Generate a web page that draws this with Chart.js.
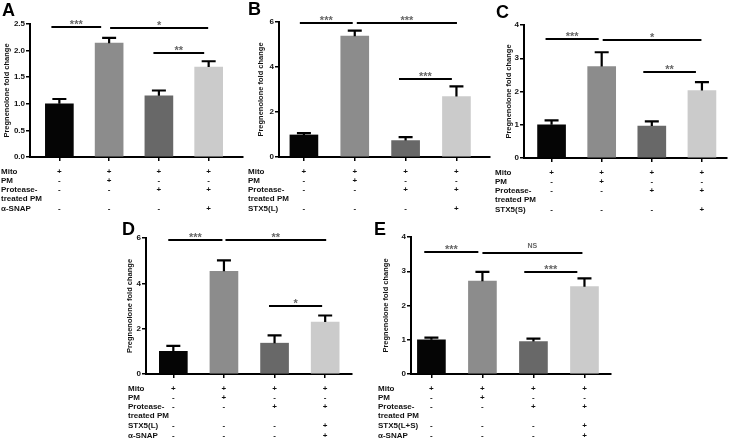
<!DOCTYPE html>
<html>
<head>
<meta charset="utf-8">
<script src="https://cdn.jsdelivr.net/npm/chart.js@4.4.0/dist/chart.umd.min.js"></script>
<style>
  body { margin: 0; background: #fff; width: 729px; height: 441px; position: relative; overflow: hidden; }
  canvas { position: absolute; }
</style>
</head>
<body>
<canvas id="panel-a"></canvas>
<canvas id="panel-b"></canvas>
<canvas id="panel-c"></canvas>
<canvas id="panel-d"></canvas>
<canvas id="panel-e"></canvas>
<script>
// Groups (x positions of the four bars)
const groups = [1, 2, 3, 4];
const barColors = ['#050505', '#8c8c8c', '#686868', '#cbcbcb'];

// Panel A
const meansA = [1.00, 2.14, 1.15, 1.69];
const semA = [0.09, 0.10, 0.10, 0.11];
const ticksA = [0, 0.5, 1.0, 1.5, 2.0, 2.5];
const labelsA = ['Mito', 'PM', 'Protease-', 'treated PM', '\u03b1-SNAP'];
const signsA = [['+', '+', '+', '+'], ['-', '+', '-', '-'], ['-', '-', '+', '+'], null, ['-', '-', '-', '+']];
const sigA = [[0.84, 1.84, 2.44, '***'], [2.02, 3.99, 2.42, '*'], [2.89, 3.91, 1.95, '**']];

// Panel B
const meansB = [0.98, 5.37, 0.73, 2.69];
const semB = [0.08, 0.25, 0.15, 0.45];
const ticksB = [0, 2, 4, 6];
const labelsB = ['Mito', 'PM', 'Protease-', 'treated PM', 'STX5(L)'];
const signsB = [['+', '+', '+', '+'], ['-', '+', '-', '-'], ['-', '-', '+', '+'], null, ['-', '-', '-', '+']];
const sigB = [[0.92, 1.96, 5.96, '***'], [2.04, 4.01, 5.96, '***'], [2.87, 3.91, 3.47, '***']];

// Panel C
const meansC = [1.00, 2.75, 0.96, 2.03];
const semC = [0.13, 0.43, 0.14, 0.25];
const ticksC = [0, 1, 2, 3, 4];
const labelsC = ['Mito', 'PM', 'Protease-', 'treated PM', 'STX5(S)'];
const signsC = [['+', '+', '+', '+'], ['-', '+', '-', '-'], ['-', '-', '+', '+'], null, ['-', '-', '-', '+']];
const sigC = [[0.88, 1.94, 3.57, '***'], [2.02, 3.99, 3.55, '*'], [2.83, 3.88, 2.60, '**']];

// Panel D
const meansD = [1.00, 4.53, 1.36, 2.29];
const semD = [0.24, 0.48, 0.34, 0.29];
const ticksD = [0, 2, 4, 6];
const labelsD = ['Mito', 'PM', 'Protease-', 'treated PM', 'STX5(L)', '\u03b1-SNAP'];
const signsD = [['+', '+', '+', '+'], ['-', '+', '-', '-'], ['-', '-', '+', '+'], null, ['-', '-', '-', '+'], ['-', '-', '-', '+']];
const sigD = [[0.90, 1.97, 5.93, '***'], [2.03, 4.02, 5.93, '**'], [2.89, 3.94, 3.01, '*']];

// Panel E
const meansE = [1.00, 2.71, 0.95, 2.55];
const semE = [0.06, 0.27, 0.08, 0.24];
const ticksE = [0, 1, 2, 3, 4];
const labelsE = ['Mito', 'PM', 'Protease-', 'treated PM', 'STX5(L+S)', '\u03b1-SNAP'];
const signsE = [['+', '+', '+', '+'], ['-', '+', '-', '-'], ['-', '-', '+', '+'], null, ['-', '-', '-', '+'], ['-', '-', '-', '+']];
const sigE = [[0.86, 1.92, 3.56, '***'], [2.00, 3.96, 3.53, 'NS'], [2.82, 3.86, 2.97, '***']];

const FONT = '"Liberation Sans", Arial, sans-serif';
const rowOffsets = [14.5, 23.5, 33, 42, 52, 61.5];

function makePanel(p) {
  const canvas = document.getElementById(p.id);
  canvas.width = p.width;
  canvas.height = p.height;
  canvas.style.left = p.left + 'px';
  canvas.style.top = p.top + 'px';

  // error bars, significance bars, condition table, panel letter
  const extras = {
    id: 'extras',
    afterDatasetsDraw(chart) {
      const { ctx, scales: { x, y } } = chart;
      ctx.save();
      ctx.strokeStyle = '#000';
      ctx.lineWidth = 2.2;
      p.means.forEach((m, i) => {
        const px = x.getPixelForValue(groups[i]);
        const top = y.getPixelForValue(m + p.sem[i]);
        ctx.beginPath();
        ctx.moveTo(px, y.getPixelForValue(m));
        ctx.lineTo(px, top);
        ctx.moveTo(px - 7, top);
        ctx.lineTo(px + 7, top);
        ctx.stroke();
      });
      ctx.restore();
    },
    afterDraw(chart) {
      const { ctx, scales: { x, y }, chartArea } = chart;
      ctx.save();
      // significance
      p.sig.forEach(s => {
        const x1 = x.getPixelForValue(s[0]);
        const x2 = x.getPixelForValue(s[1]);
        const yy = Math.round(y.getPixelForValue(s[2]));
        ctx.strokeStyle = '#000';
        ctx.lineWidth = 2;
        ctx.beginPath();
        ctx.moveTo(x1, yy);
        ctx.lineTo(x2, yy);
        ctx.stroke();
        ctx.fillStyle = '#666';
        ctx.textAlign = 'center';
        ctx.textBaseline = 'alphabetic';
        if (s[3] === 'NS') {
          ctx.font = 'bold 7px ' + FONT;
          ctx.fillText(s[3], (x1 + x2) / 2, yy - 5);
        } else {
          ctx.font = 'bold 11px ' + FONT;
          ctx.fillText(s[3], (x1 + x2) / 2, yy + 0.5);
        }
      });
      // table of conditions
      ctx.fillStyle = '#111';
      ctx.font = 'bold 8px ' + FONT;
      ctx.textBaseline = 'middle';
      p.labels.forEach((label, r) => {
        const ry = chartArea.bottom + rowOffsets[r];
        ctx.textAlign = 'left';
        ctx.fillText(label, p.labelX - p.left, ry);
        if (p.signs[r]) {
          ctx.textAlign = 'center';
          p.signs[r].forEach((s, i) => ctx.fillText(s, x.getPixelForValue(groups[i]), ry));
        }
      });
      // panel letter
      ctx.fillStyle = '#000';
      ctx.font = 'bold 18px ' + FONT;
      ctx.textAlign = 'left';
      ctx.textBaseline = 'alphabetic';
      ctx.fillText(p.letter, p.letterX - p.left, p.letterY - p.top);
      ctx.restore();
    }
  };

  return new Chart(canvas, {
    type: 'bar',
    data: {
      datasets: [{
        data: groups.map((g, i) => ({ x: g, y: p.means[i] })),
        backgroundColor: barColors,
        borderWidth: 0,
        barThickness: 28
      }]
    },
    options: {
      responsive: false,
      animation: false,
      devicePixelRatio: 1,
      layout: {
        padding: { left: 0, top: p.plotTop - p.top, right: p.left + p.width - p.plotRight, bottom: 0 }
      },
      plugins: { legend: { display: false }, tooltip: { enabled: false } },
      scales: {
        x: {
          type: 'linear',
          min: p.xMin,
          max: p.xMax,
          offset: false,
          grid: { offset: false, drawOnChartArea: false, drawTicks: true, tickLength: 4, color: '#000', lineWidth: 1.5 },
          border: { color: '#000', width: 2 },
          ticks: { callback: () => '' },
          afterBuildTicks: s => { s.ticks = groups.map(v => ({ value: v })); },
          afterFit: s => { s.height = p.top + p.height - p.plotBottom; }
        },
        y: {
          min: 0,
          max: p.ticks[p.ticks.length - 1],
          grid: { drawOnChartArea: false, drawTicks: true, tickLength: 4, color: '#000', lineWidth: 1.5 },
          border: { color: '#000', width: 2 },
          ticks: {
            color: '#111',
            padding: 1,
            font: { family: FONT, size: 8, weight: 'bold' },
            callback: v => p.decimals ? v.toFixed(1) : v
          },
          afterBuildTicks: s => { s.ticks = p.ticks.map(v => ({ value: v })); },
          title: {
            display: true,
            text: 'Pregnenolone fold change',
            color: '#111',
            font: { family: FONT, size: 7.5, weight: 'bold' },
            padding: { top: p.titleX - p.left - 4.5, bottom: 0 }
          },
          afterFit: s => { s.width = p.plotLeft - p.left; }
        }
      }
    },
    plugins: [extras]
  });
}

makePanel({ id: 'panel-a', letter: 'A', means: meansA, sem: semA, ticks: ticksA, decimals: true, labels: labelsA, signs: signsA, sig: sigA,
  left: 0, top: 0, width: 245, height: 216, plotLeft: 30, plotTop: 24, plotRight: 243, plotBottom: 157,
  xMin: 0.41, xMax: 4.69, titleX: 6.5, labelX: 1, letterX: 2, letterY: 16 });
makePanel({ id: 'panel-b', letter: 'B', means: meansB, sem: semB, ticks: ticksB, decimals: false, labels: labelsB, signs: signsB, sig: sigB,
  left: 244, top: 0, width: 248, height: 216, plotLeft: 279, plotTop: 22, plotRight: 490, plotBottom: 157,
  xMin: 0.51, xMax: 4.66, titleX: 260.5, labelX: 248, letterX: 248, letterY: 15 });
makePanel({ id: 'panel-c', letter: 'C', means: meansC, sem: semC, ticks: ticksC, decimals: false, labels: labelsC, signs: signsC, sig: sigC,
  left: 490, top: 0, width: 239, height: 216, plotLeft: 524, plotTop: 25, plotRight: 727, plotBottom: 158,
  xMin: 0.45, xMax: 4.50, titleX: 509, labelX: 495, letterX: 496, letterY: 18 });
makePanel({ id: 'panel-d', letter: 'D', means: meansD, sem: semD, ticks: ticksD, decimals: false, labels: labelsD, signs: signsD, sig: sigD,
  left: 120, top: 218, width: 236, height: 223, plotLeft: 146, plotTop: 238, plotRight: 352, plotBottom: 374,
  xMin: 0.46, xMax: 4.53, titleX: 130, labelX: 128, letterX: 122, letterY: 235 });
makePanel({ id: 'panel-e', letter: 'E', means: meansE, sem: semE, ticks: ticksE, decimals: false, labels: labelsE, signs: signsE, sig: sigE,
  left: 372, top: 218, width: 243, height: 223, plotLeft: 411, plotTop: 237, plotRight: 611, plotBottom: 374,
  xMin: 0.60, xMax: 4.52, titleX: 385.5, labelX: 378, letterX: 374, letterY: 235 });
</script>
</body>
</html>
